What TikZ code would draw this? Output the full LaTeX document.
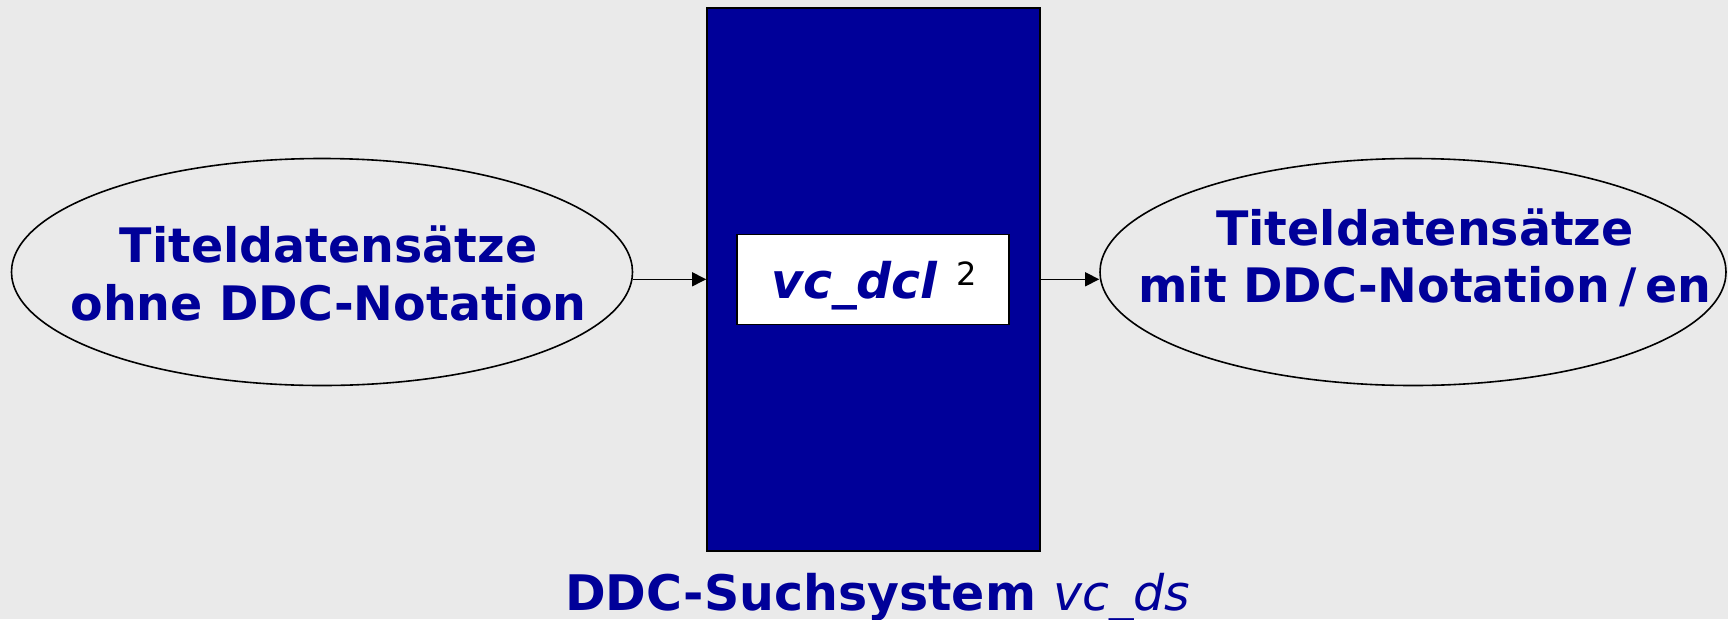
\documentclass[tikz,border=0pt]{standalone}
\usepackage{fontspec}
\setmainfont{DejaVu Sans}
\usetikzlibrary{shapes.geometric,arrows.meta}
\definecolor{bg}{HTML}{EAEAEA}
\definecolor{navy}{HTML}{000099}
\begin{document}
\begin{tikzpicture}[x=1pt,y=-1pt,
  blob/.style={ellipse,draw=black,line width=1.6pt,minimum width=621pt,minimum height=227pt,inner sep=0pt},
  txt/.style={text=navy,font=\fontsize{47.5}{57.3}\selectfont\bfseries,align=center,inner sep=0pt},
  arrow/.style={line width=1.4pt,-{Triangle[length=14pt,width=14pt]}},
  block/.style={draw=black,line width=1.5pt,inner sep=0pt}
]
% canvas
\fill[bg] (0,0) rectangle (1728,619);
\useasboundingbox (0,0) rectangle (1728,619);

% input and output record sets
\node[blob] (src) at (322,272) {};
\node[blob,minimum width=626pt] (dst) at (1413,272) {};

% search system with its classifier
\node[block,fill=navy,minimum width=333pt,minimum height=543pt] (sys) at (873.4,279.3) {};
\node[block,line width=1.3pt,fill=white,minimum width=272pt,minimum height=90pt] (core) at (873,279.6) {};

% texts (base anchor = baseline of the last line)
\node[txt,anchor=base] (srct) at (328.5,320) {Titeldatensätze\\ohne DDC-Notation};
\node[txt,anchor=base] (dstt) at (1425,302.3) {Titeldatensätze\\mit DDC-Notation\kern9pt/\kern9pt en};
\node[txt,anchor=base west,font=\fontsize{49}{57.3}\selectfont\bfseries\itshape] (corel) at (771,298.6) {vc\_dcl};
\node[anchor=base west,inner sep=0pt,font=\fontsize{32}{36}\selectfont] (coren) at (956,285.3) {2};
\node[txt,anchor=base,font=\fontsize{49}{57.3}\selectfont\bfseries] (syst) at (877.8,610.7) {DDC-Suchsystem \textmd{\itshape vc\_ds}};

% flow
\draw[arrow] (src.east |- sys.west) -- (sys.west);
\draw[arrow] (sys.east) -- (dst.west |- sys.east);
\end{tikzpicture}
\end{document}
